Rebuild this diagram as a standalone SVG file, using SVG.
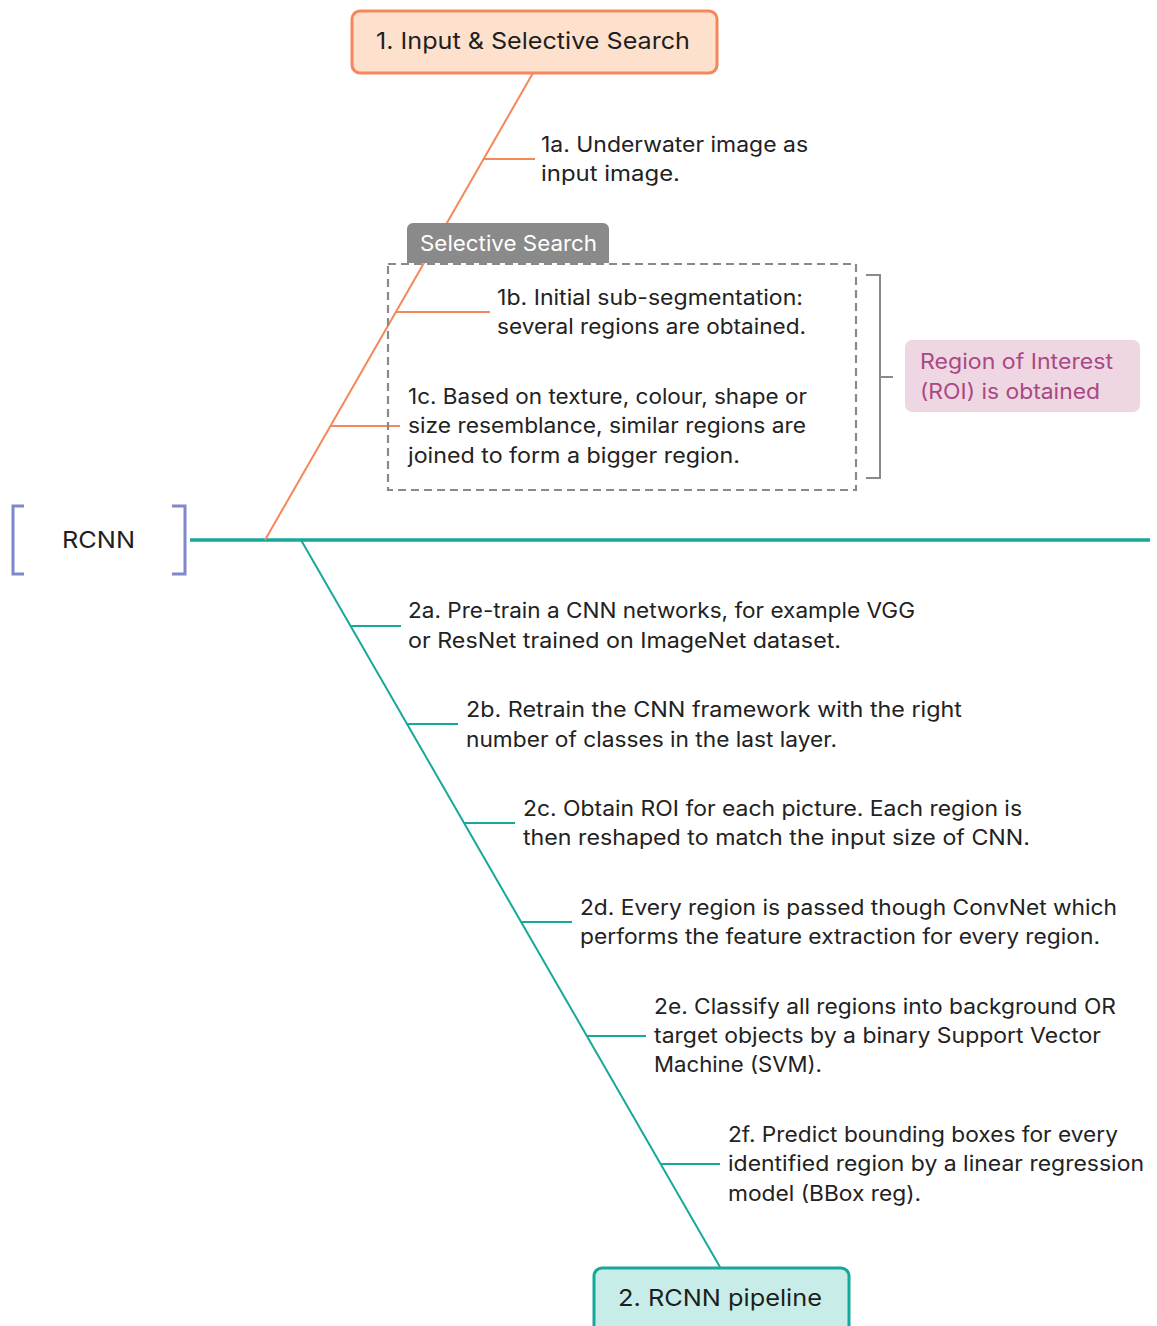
<svg xmlns="http://www.w3.org/2000/svg" width="1157" height="1326" viewBox="0 0 1157 1326">
  <style>
    .t { font-family: Inter, "Noto Sans", "Liberation Sans", sans-serif; font-size: 21px; fill: #222222; }
    .title { font-family: Inter, "Noto Sans", "Liberation Sans", sans-serif; font-size: 23.5px; fill: #1e1e1e; }
    .orange { stroke: #f5875a; stroke-width: 2; fill: none; }
    .teal { stroke: #16a89a; stroke-width: 2; fill: none; }
    .gray { stroke: #8a8a8a; stroke-width: 2; fill: none; }
  </style>
  <rect width="1157" height="1326" fill="#ffffff"/>

  <!-- connectors -->
  <g id="connectors">
    <line class="teal" x1="190" y1="540" x2="1150" y2="540" style="stroke-width:3.5"/>
    <line class="orange" x1="533" y1="73" x2="265" y2="540"/>
    <line class="orange" x1="484" y1="159" x2="535" y2="159"/>
    <line class="orange" x1="396" y1="312" x2="490" y2="312"/>
    <line class="orange" x1="330" y1="426" x2="400" y2="426"/>
    <line class="teal" x1="301" y1="540" x2="720" y2="1267"/>
    <line class="teal" x1="351" y1="626" x2="401" y2="626"/>
    <line class="teal" x1="407" y1="724" x2="458" y2="724"/>
    <line class="teal" x1="464" y1="823" x2="515" y2="823"/>
    <line class="teal" x1="521" y1="922" x2="572" y2="922"/>
    <line class="teal" x1="587" y1="1036" x2="646" y2="1036"/>
    <line class="teal" x1="661" y1="1164" x2="720" y2="1164"/>
    <polyline class="gray" points="866,275 880,275 880,478 866,478"/>
    <line class="gray" x1="880" y1="377" x2="893" y2="377"/>
  </g>

  <!-- root -->
  <g id="rcnn">
    <polyline points="24,506 13,506 13,574 24,574" fill="none" stroke="#7f88cc" stroke-width="3"/>
    <polyline points="172,506 185,506 185,574 172,574" fill="none" stroke="#7f88cc" stroke-width="3"/>
    <text class="title" x="62" y="548" textLength="73" lengthAdjust="spacingAndGlyphs">RCNN</text>
  </g>

  <!-- main topic 1 -->
  <g id="input-selective-search">
    <rect x="352" y="11" width="365" height="62" rx="8" fill="#fde1cd" stroke="#f5875a" stroke-width="3"/>
    <text class="title" x="376" y="49" textLength="314" lengthAdjust="spacingAndGlyphs">1. Input &amp; Selective Search</text>
  </g>

  <g id="step-1a">
    <text class="t"><tspan x="541" y="152" textLength="267" lengthAdjust="spacingAndGlyphs">1a. Underwater image as</tspan><tspan x="541" y="181" textLength="139" lengthAdjust="spacingAndGlyphs">input image.</tspan></text>
  </g>

  <!-- selective search boundary -->
  <g id="selective-search">
    <rect x="388" y="264" width="468" height="226" fill="none" stroke="#8a8a8a" stroke-width="2.2" stroke-dasharray="8,5"/>
    <path d="M407,263 V229 a6,6 0 0 1 6,-6 H603 a6,6 0 0 1 6,6 V263 Z" fill="#8a8a8a"/>
    <text class="t" x="420" y="251" style="fill:#ffffff" textLength="177" lengthAdjust="spacingAndGlyphs">Selective Search</text>
  </g>

  <g id="step-1b">
    <text class="t"><tspan x="497" y="305" textLength="306" lengthAdjust="spacingAndGlyphs">1b. Initial sub-segmentation:</tspan><tspan x="497" y="334" textLength="309" lengthAdjust="spacingAndGlyphs">several regions are obtained.</tspan></text>
  </g>

  <g id="step-1c">
    <text class="t"><tspan x="408" y="404" textLength="399" lengthAdjust="spacingAndGlyphs">1c. Based on texture, colour, shape or</tspan><tspan x="408" y="433" textLength="398" lengthAdjust="spacingAndGlyphs">size resemblance, similar regions are</tspan><tspan x="408" y="463" textLength="332" lengthAdjust="spacingAndGlyphs">joined to form a bigger region.</tspan></text>
  </g>

  <!-- summary -->
  <g id="roi">
    <rect x="905" y="340" width="235" height="72" rx="7" fill="#eed7e2"/>
    <text class="t" style="fill:#aa4883"><tspan x="920" y="369" textLength="193" lengthAdjust="spacingAndGlyphs">Region of Interest</tspan><tspan x="920" y="399" textLength="180" lengthAdjust="spacingAndGlyphs">(ROI) is obtained</tspan></text>
  </g>

  <!-- main topic 2 -->
  <g id="step-2a">
    <text class="t"><tspan x="408" y="618" textLength="507" lengthAdjust="spacingAndGlyphs">2a. Pre-train a CNN networks, for example VGG</tspan><tspan x="408" y="648" textLength="433" lengthAdjust="spacingAndGlyphs">or ResNet trained on ImageNet dataset.</tspan></text>
  </g>
  <g id="step-2b">
    <text class="t"><tspan x="466" y="717" textLength="496" lengthAdjust="spacingAndGlyphs">2b. Retrain the CNN framework with the right</tspan><tspan x="466" y="747" textLength="371" lengthAdjust="spacingAndGlyphs">number of classes in the last layer.</tspan></text>
  </g>
  <g id="step-2c">
    <text class="t"><tspan x="523" y="816" textLength="499" lengthAdjust="spacingAndGlyphs">2c. Obtain ROI for each picture. Each region is</tspan><tspan x="523" y="845" textLength="507" lengthAdjust="spacingAndGlyphs">then reshaped to match the input size of CNN.</tspan></text>
  </g>
  <g id="step-2d">
    <text class="t"><tspan x="580" y="915" textLength="537" lengthAdjust="spacingAndGlyphs">2d. Every region is passed though ConvNet which</tspan><tspan x="580" y="944" textLength="520" lengthAdjust="spacingAndGlyphs">performs the feature extraction for every region.</tspan></text>
  </g>
  <g id="step-2e">
    <text class="t"><tspan x="654" y="1014" textLength="462" lengthAdjust="spacingAndGlyphs">2e. Classify all regions into background OR</tspan><tspan x="654" y="1043" textLength="447" lengthAdjust="spacingAndGlyphs">target objects by a binary Support Vector</tspan><tspan x="654" y="1072" textLength="168" lengthAdjust="spacingAndGlyphs">Machine (SVM).</tspan></text>
  </g>
  <g id="step-2f">
    <text class="t"><tspan x="728" y="1142" textLength="390" lengthAdjust="spacingAndGlyphs">2f. Predict bounding boxes for every</tspan><tspan x="728" y="1171" textLength="416" lengthAdjust="spacingAndGlyphs">identified region by a linear regression</tspan><tspan x="728" y="1201" textLength="193" lengthAdjust="spacingAndGlyphs">model (BBox reg).</tspan></text>
  </g>

  <g id="rcnn-pipeline">
    <rect x="594" y="1268" width="255" height="70" rx="8" fill="#c8ede8" stroke="#16a89a" stroke-width="3"/>
    <text class="title" x="618" y="1306" textLength="204" lengthAdjust="spacingAndGlyphs">2. RCNN pipeline</text>
  </g>
</svg>
